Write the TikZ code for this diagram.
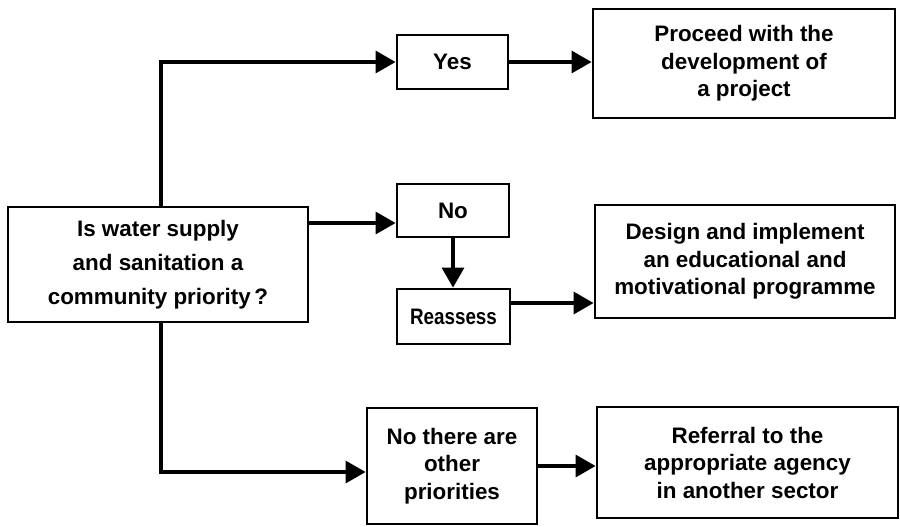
\documentclass[tikz,border=0pt]{standalone}
\usepackage{fontspec}
\setmainfont{Liberation Sans}
\usetikzlibrary{arrows.meta,calc}
\begin{document}
\begin{tikzpicture}[x=0.5pt,y=-0.5pt,
  box/.style={draw,line width=1.4pt,align=center,inner sep=0pt,
    font=\fontsize{11.2}{13.75}\selectfont\bfseries},
  conn/.style={line width=1.6pt,-{Triangle[length=10pt,width=11pt]}}]
\useasboundingbox (0,0) rectangle (900,526);
\node[box,minimum width=150pt,minimum height=57.5pt,
  font=\fontsize{11.2}{17}\selectfont\bfseries] (main) at (158,264.5)
  {Is water supply\\and sanitation a\\community priority\,?};
\node[box,minimum width=55.5pt,minimum height=27pt] (yes) at (452.5,62) {Yes};
\node[box,minimum width=151pt,minimum height=54.5pt] (proceed) at (744,63.5)
  {Proceed with the\\development of\\a project};
\node[box,minimum width=56pt,minimum height=26.5pt] (no) at (453,210.5) {No};
\node[box,minimum width=56.5pt,minimum height=27.5pt,
  font=\fontsize{11.2}{13.75}\selectfont\bfseries\addfontfeature{FakeStretch=0.84}]
  (reassess) at (453.5,316.5) {Reassess};
\node[box,minimum width=150pt,minimum height=56.5pt] (design) at (745,261.5)
  {Design and implement\\an educational and\\motivational programme};
\node[box,minimum width=85pt,minimum height=58pt] (other) at (452,466)
  {No there are\\other\\priorities};
\node[box,minimum width=150.5pt,minimum height=55.5pt] (referral) at (747.5,462.5)
  {Referral to the\\appropriate agency\\in another sector};
\coordinate (spine) at (161,0);
\coordinate (nin) at ([yshift=-6.25pt]no.west);
\coordinate (rout) at ([yshift=6.75pt]reassess.east);
\coordinate (oin) at ([yshift=-3pt]other.west);
\draw[conn] (main.north -| spine) |- (yes.west);
\draw[conn] (yes.east) -- (proceed.west |- yes.east);
\draw[conn] (main.east |- nin) -- (nin);
\draw[conn] (no.south) -- (reassess.north -| no.south);
\draw[conn] (rout) -- (design.west |- rout);
\draw[conn] (main.south -| spine) |- (oin);
\draw[conn] (other.east) -- (referral.west |- other.east);
\end{tikzpicture}
\end{document}
